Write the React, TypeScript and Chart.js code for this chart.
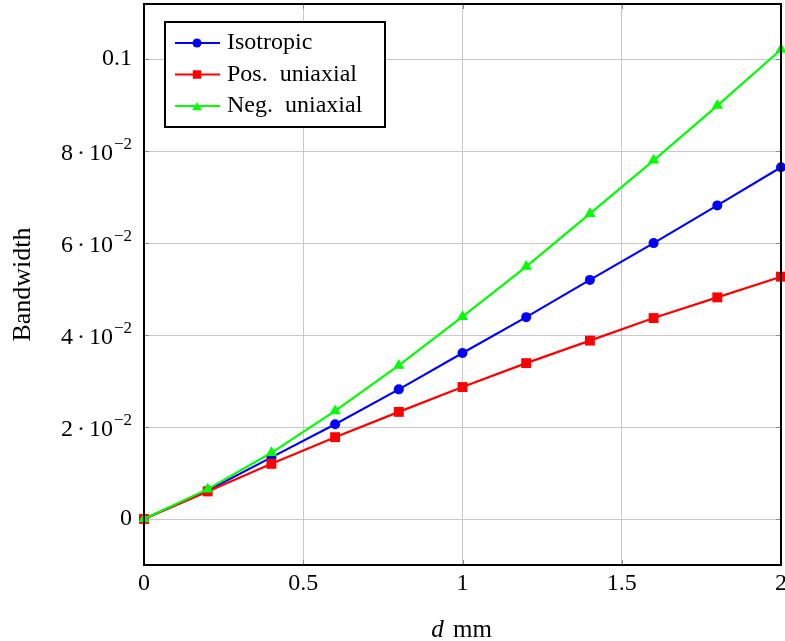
import React, { useEffect, useRef } from "react";
import { Chart, registerables } from "chart.js";

Chart.register(...registerables);

const dValues = [0, 0.2, 0.4, 0.6, 0.8, 1.0, 1.2, 1.4, 1.6, 1.8, 2.0];
const isotropic = [0, 0.0062, 0.0134, 0.0206, 0.0282, 0.0361, 0.0439, 0.052, 0.06, 0.0682, 0.0765];
const posUniaxial = [0, 0.006, 0.012, 0.0178, 0.0233, 0.0287, 0.0339, 0.0388, 0.0437, 0.0482, 0.0527];
const negUniaxial = [0, 0.0065, 0.0144, 0.0235, 0.0334, 0.044, 0.0549, 0.0664, 0.078, 0.0899, 0.1021];

const xTicks = [0, 0.5, 1, 1.5, 2];
const xTickLabels = ["0", "0.5", "1", "1.5", "2"];
const yTicks = [0, 0.02, 0.04, 0.06, 0.08, 0.1];
const yTickMantissa = ["0", "2", "4", "6", "8", "0.1"];

const seriesNames = ["Isotropic", "Pos.  uniaxial", "Neg.  uniaxial"];
const seriesColors = ["#0000ff", "#ff0000", "#00ff00"];
const seriesMarkers = ["circle", "rect", "triangle"];
const seriesRadius = [5, 7, 6.5];

const FONT = '"Liberation Serif", serif';
const FS = 24;

function drawMarker(ctx: CanvasRenderingContext2D, style: string, x: number, y: number, r: number, color: string) {
  ctx.save();
  ctx.fillStyle = color;
  ctx.beginPath();
  if (style === "circle") {
    ctx.arc(x, y, r, 0, Math.PI * 2);
  } else if (style === "rect") {
    const s = Math.SQRT1_2 * r;
    ctx.rect(x - s, y - s, 2 * s, 2 * s);
  } else {
    for (let i = 0; i < 3; i++) {
      const ang = -Math.PI / 2 + (i * 2 * Math.PI) / 3;
      const px = x + r * Math.cos(ang);
      const py = y + r * Math.sin(ang) + r * 0.25;
      if (i === 0) ctx.moveTo(px, py);
      else ctx.lineTo(px, py);
    }
    ctx.closePath();
  }
  ctx.fill();
  ctx.restore();
}

const decorPlugin = {
  id: "decor",
  afterDraw(chart: any) {
    const ctx: CanvasRenderingContext2D = chart.ctx;
    const { left, right, top, bottom } = chart.chartArea;
    const xs = chart.scales.x;
    const ys = chart.scales.y;
    ctx.save();

    // inner tick marks
    ctx.strokeStyle = "#8c8c8c";
    ctx.lineWidth = 1;
    xTicks.forEach((v) => {
      const px = Math.round(xs.getPixelForValue(v)) + 0.5;
      ctx.beginPath();
      ctx.moveTo(px, bottom);
      ctx.lineTo(px, bottom - 5);
      ctx.moveTo(px, top);
      ctx.lineTo(px, top + 5);
      ctx.stroke();
    });
    yTicks.forEach((v) => {
      const py = Math.round(ys.getPixelForValue(v)) + 0.5;
      ctx.beginPath();
      ctx.moveTo(left, py);
      ctx.lineTo(left + 5, py);
      ctx.moveTo(right, py);
      ctx.lineTo(right - 5, py);
      ctx.stroke();
    });

    // frame
    ctx.strokeStyle = "#000";
    ctx.lineWidth = 2;
    ctx.strokeRect(left, top, right - left, bottom - top);

    // y tick labels
    ctx.fillStyle = "#000";
    yTicks.forEach((v, i) => {
      const py = ys.getPixelForValue(v);
      const xr = left - 12;
      const m = yTickMantissa[i];
      if (v === 0 || m === "0.1") {
        ctx.font = `${FS}px ${FONT}`;
        ctx.textAlign = "right";
        ctx.textBaseline = "middle";
        ctx.fillText(m, xr, py);
      } else {
        ctx.textBaseline = "middle";
        ctx.textAlign = "left";
        ctx.font = `${FS - 7}px ${FONT}`;
        const sup = "\u22122";
        const supW = ctx.measureText(sup).width;
        ctx.font = `${FS}px ${FONT}`;
        const mW = ctx.measureText(m).width;
        const dotW = ctx.measureText("\u00b7").width;
        const tenW = ctx.measureText("10").width;
        const gap = 4;
        const total = mW + gap + dotW + gap + tenW + 1 + supW;
        let x0 = xr - total;
        const by = py + 3;
        ctx.fillText(m, x0, by);
        x0 += mW + gap;
        ctx.fillText("\u00b7", x0, by);
        x0 += dotW + gap;
        ctx.fillText("10", x0, by);
        x0 += tenW + 1;
        ctx.font = `${FS - 7}px ${FONT}`;
        ctx.fillText(sup, x0, by - 10);
      }
    });

    // x tick labels
    ctx.font = `${FS}px ${FONT}`;
    ctx.textAlign = "center";
    ctx.textBaseline = "alphabetic";
    xTicks.forEach((v, i) => {
      ctx.fillText(xTickLabels[i], xs.getPixelForValue(v), bottom + 25);
    });

    // x title: "d mm" with italic d
    const TF = 25;
    ctx.textBaseline = "alphabetic";
    ctx.textAlign = "left";
    const cx = (left + right) / 2 - 1;
    ctx.font = `italic ${TF}px ${FONT}`;
    const dW = ctx.measureText("d").width;
    ctx.font = `${TF}px ${FONT}`;
    const mmW = ctx.measureText(" mm").width;
    const sx = cx - (dW + mmW + 3) / 2;
    ctx.font = `italic ${TF}px ${FONT}`;
    ctx.fillText("d", sx, bottom + 72);
    ctx.font = `${TF}px ${FONT}`;
    ctx.fillText(" mm", sx + dW + 3, bottom + 72);

    // y title
    ctx.save();
    ctx.translate(23, (top + bottom) / 2);
    ctx.rotate(-Math.PI / 2);
    ctx.textAlign = "center";
    ctx.textBaseline = "middle";
    ctx.font = `${TF + 1}px ${FONT}`;
    ctx.fillText("Bandwidth", 0, 0);
    ctx.restore();

    // legend
    const lx = left + 21;
    const ly = top + 18;
    const lw = 220;
    const lh = 105;
    ctx.fillStyle = "#fff";
    ctx.fillRect(lx, ly, lw, lh);
    ctx.strokeStyle = "#000";
    ctx.lineWidth = 2;
    ctx.strokeRect(lx, ly, lw, lh);
    seriesNames.forEach((name, i) => {
      const ry = ly + 21 + i * 31.5;
      ctx.strokeStyle = seriesColors[i];
      ctx.lineWidth = 2;
      ctx.beginPath();
      ctx.moveTo(lx + 10, ry);
      ctx.lineTo(lx + 55, ry);
      ctx.stroke();
      drawMarker(ctx, seriesMarkers[i], lx + 32, ry, seriesRadius[i] - (i === 0 ? 0.5 : 1), seriesColors[i]);
      ctx.fillStyle = "#000";
      ctx.font = `${FS}px ${FONT}`;
      ctx.textAlign = "left";
      ctx.textBaseline = "middle";
      ctx.fillText(name, lx + 62, ry);
    });
    ctx.restore();
  },
};

export default function App() {
  const ref = useRef<HTMLCanvasElement | null>(null);
  useEffect(() => {
    document.body.style.margin = "0";
    const canvas = ref.current;
    if (!canvas) return;
    const seriesData = [isotropic, posUniaxial, negUniaxial];
    const chart = new Chart(canvas, {
      type: "line",
      data: {
        datasets: seriesData.map((vals, i) => ({
          label: seriesNames[i],
          data: dValues.map((d, j) => ({ x: d, y: vals[j] })),
          borderColor: seriesColors[i],
          backgroundColor: seriesColors[i],
          borderWidth: 2.2,
          pointStyle: seriesMarkers[i] as any,
          pointRadius: seriesRadius[i],
          pointBorderWidth: 0,
          pointBackgroundColor: seriesColors[i],
          order: 3 - i,
          clip: false as any,
          tension: 0,
        })),
      },
      options: {
        responsive: false,
        animation: false,
        layout: { autoPadding: false, padding: { left: 0, top: 4, right: 4, bottom: 0 } },
        plugins: { legend: { display: false }, tooltip: { enabled: false } },
        scales: {
          x: {
            type: "linear",
            min: 0,
            max: 2,
            afterBuildTicks: (s: any) => {
              s.ticks = xTicks.map((v) => ({ value: v }));
            },
            afterFit: (s: any) => {
              s.height = 76;
            },
            ticks: { display: false },
            grid: { color: "#c8c8c8", lineWidth: 1, drawTicks: false },
            border: { display: false },
          },
          y: {
            type: "linear",
            min: -0.01,
            max: 0.112,
            afterBuildTicks: (s: any) => {
              s.ticks = yTicks.map((v) => ({ value: v }));
            },
            afterFit: (s: any) => {
              s.width = 144;
            },
            ticks: { display: false },
            grid: { color: "#c8c8c8", lineWidth: 1, drawTicks: false },
            border: { display: false },
          },
        },
      },
      plugins: [decorPlugin],
    });
    return () => chart.destroy();
  }, []);
  return <canvas ref={ref} width={785} height={641} style={{ display: "block", width: 785, height: 641 }} />;
}
